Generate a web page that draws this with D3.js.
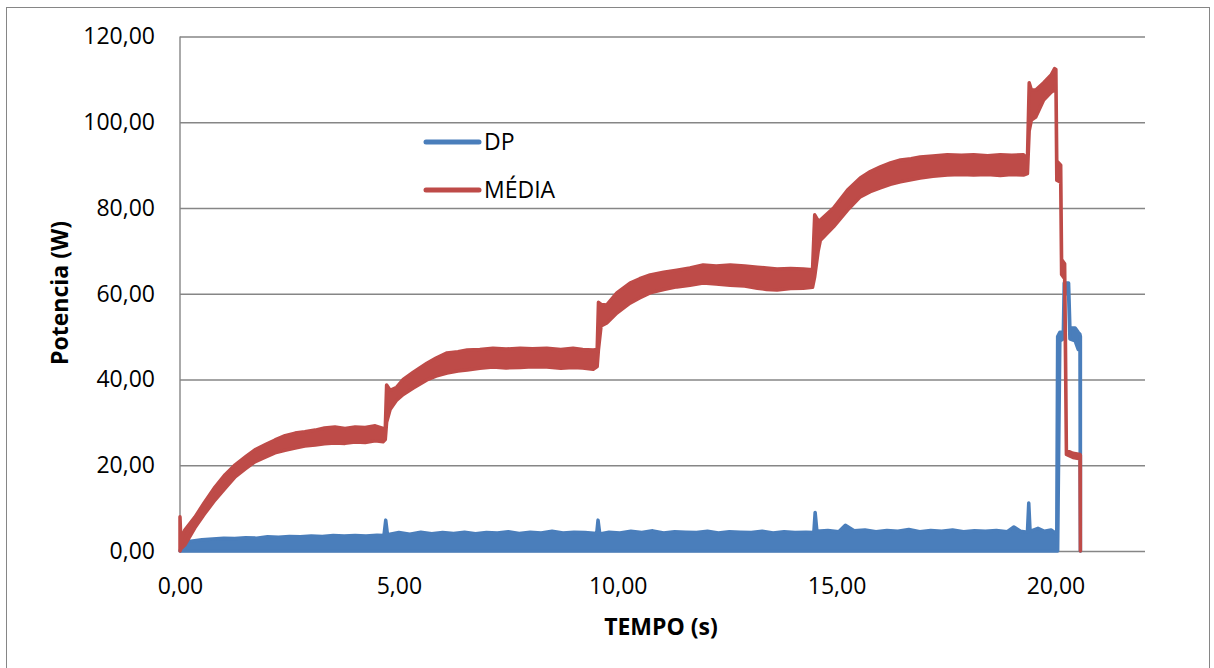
<!DOCTYPE html>
<html>
<head>
<meta charset="utf-8">
<script src="https://cdn.jsdelivr.net/npm/d3@7"></script>
<style>
  html, body { margin: 0; padding: 0; background: #fff; }
  svg { display: block; }
  text { font-family: "Open Sans", "Noto Sans", sans-serif; fill: #000; }
</style>
</head>
<body>
<svg id="chart" width="1214" height="668"></svg>
<script>
// ---------- DATA ----------
const xTicks = [0, 5, 10, 15, 20];
const yTicks = [0, 20, 40, 60, 80, 100, 120];
const seriesNames = ["DP", "MÉDIA"];
const xTitle = "TEMPO (s)";
const yTitle = "Potencia (W)";

// MÉDIA : sampled envelope (min / max of the noisy signal)
const mediaTime = [
  0.00,0.02,0.11,0.34,0.55,0.80,1.03,1.26,1.50,1.71,
  1.95,2.17,2.40,2.63,2.85,3.09,3.30,3.54,3.77,4.00,
  4.23,4.46,4.64,4.69,4.72,4.80,4.95,5.10,5.33,5.64,
  5.85,6.10,6.35,6.56,6.85,7.15,7.45,7.77,8.05,8.38,
  8.70,8.98,9.20,9.44,9.53,9.56,9.62,9.75,9.98,10.28,
  10.50,10.74,11.05,11.35,11.65,11.95,12.25,12.57,12.90,13.19,
  13.40,13.64,13.95,14.24,14.45,14.50,14.58,14.63,14.93,15.25,
  15.54,15.77,16.00,16.23,16.46,16.70,16.91,17.20,17.53,17.85,
  18.13,18.45,18.74,19.00,19.27,19.36,19.40,19.45,19.55,19.73,
  19.90,19.98,20.01,20.03,20.12,20.14,20.21,20.23,20.25,20.40,
  20.56,20.57
];
const mediaLow = [
  0.0,0.5,1.4,5.4,8.5,11.9,14.6,17.3,19.2,20.8,
  21.9,22.9,23.5,24.0,24.5,24.7,25.0,25.2,25.1,25.4,
  25.3,25.7,25.5,26.0,30.0,33.0,35.2,36.5,38.0,39.9,
  40.8,41.5,42.0,42.2,42.6,42.9,42.7,42.8,43.0,42.9,
  42.6,42.8,42.7,42.4,43.0,47.0,52.5,53.2,55.5,57.8,
  59.0,60.2,61.0,61.6,62.0,62.5,62.3,62.0,61.8,61.3,
  61.0,60.9,61.2,61.3,61.5,64.0,70.0,72.5,75.6,79.5,
  82.6,83.8,84.7,85.5,86.1,86.6,87.0,87.4,87.7,87.8,
  87.7,87.8,87.6,87.8,87.7,88.0,98.0,100.5,101.2,105.2,
  107.0,107.5,110.0,86.5,86.0,64.5,63.5,44.0,22.5,21.8,
  21.5,0.0
];
const mediaHigh = [
  8.0,2.5,4.9,7.9,11.2,14.9,17.8,20.1,22.0,23.6,
  24.8,25.9,26.9,27.5,27.8,28.2,28.7,28.9,28.6,28.9,
  28.8,29.2,28.6,28.8,38.7,37.5,38.2,40.0,41.7,43.8,
  45.0,46.2,46.5,46.9,47.0,47.3,47.1,47.3,47.2,47.3,
  47.0,47.3,47.0,46.9,47.0,58.0,57.5,57.4,60.2,62.5,
  63.5,64.4,65.0,65.5,66.0,66.7,66.5,66.7,66.5,66.2,
  66.0,65.8,65.9,65.8,65.6,78.4,77.0,77.2,80.0,84.2,
  87.0,88.5,89.6,90.5,91.2,91.5,91.9,92.1,92.4,92.3,
  92.4,92.2,92.4,92.3,92.4,91.5,109.2,107.5,107.5,109.2,
  111.0,112.5,112.3,91.0,90.0,68.0,67.0,47.0,23.5,22.8,
  22.5,22.3
];

// DP : sampled envelope (min / max of the noisy signal)
const dpTime = [
  0.00,0.05,0.10,0.25,0.50,0.75,1.00,1.25,1.50,1.75,
  2.00,2.25,2.50,2.75,3.00,3.25,3.50,3.75,4.00,4.25,
  4.50,4.66,4.70,4.74,5.00,5.25,5.50,5.75,6.00,6.25,
  6.50,6.75,7.00,7.25,7.50,7.75,8.00,8.25,8.50,8.75,
  9.00,9.25,9.52,9.55,9.59,9.80,10.05,10.30,10.55,10.80,
  11.05,11.30,11.55,11.80,12.05,12.30,12.55,12.80,13.05,13.30,
  13.55,13.80,14.05,14.30,14.48,14.51,14.55,14.80,15.05,15.20,
  15.40,15.65,15.90,16.15,16.40,16.65,16.90,17.15,17.40,17.65,
  17.90,18.15,18.40,18.65,18.90,19.05,19.20,19.36,19.39,19.42,
  19.60,19.75,19.90,20.03,20.05,20.10,20.18,20.20,20.30,20.33,
  20.45,20.52,20.56,20.57
];
const dpLow = [
  0,0,0,0,0,0,0,0,0,0,
  0,0,0,0,0,0,0,0,0,0,
  0,0,0,0,0,0,0,0,0,0,
  0,0,0,0,0,0,0,0,0,0,
  0,0,0,0,0,0,0,0,0,0,
  0,0,0,0,0,0,0,0,0,0,
  0,0,0,0,0,0,0,0,0,0,
  0,0,0,0,0,0,0,0,0,0,
  0,0,0,0,0,0,0,0,0,0,
  0,0,0,0,0,49.0,49.5,60.0,60.0,49.5,
  49.0,47.0,48.5,0
];
const dpHigh = [
  0.0,1.5,2.1,2.3,2.6,2.8,3.0,2.9,3.1,3.0,
  3.3,3.2,3.4,3.3,3.5,3.4,3.6,3.5,3.6,3.5,
  3.7,3.6,7.2,3.8,4.3,3.9,4.4,4.0,4.3,4.1,
  4.4,4.0,4.3,4.2,4.5,4.1,4.4,4.2,4.6,4.2,
  4.4,4.3,4.1,7.2,4.0,4.4,4.2,4.6,4.3,4.7,
  4.2,4.5,4.4,4.3,4.6,4.2,4.5,4.4,4.3,4.6,
  4.2,4.5,4.3,4.4,4.3,9.0,4.6,4.8,4.5,6.0,
  4.7,4.9,4.5,4.8,4.6,5.0,4.5,4.8,4.6,4.9,
  4.5,4.7,4.6,4.8,4.5,5.6,4.6,4.4,11.2,4.6,
  5.3,4.6,4.9,4.0,50.0,51.0,51.0,62.5,62.5,52.0,
  52.0,51.0,50.5,50.0
];

// ---------- DRAW ----------
const colors = { DP: "#4a7ebb", "MÉDIA": "#be4b48" };
const gridColor = "#868686";
const svg = d3.select("#chart");

// outer frame
svg.append("rect").attr("x", 6.5).attr("y", 7.5).attr("width", 1203).attr("height", 666)
  .attr("fill", "none").attr("stroke", gridColor).attr("stroke-width", 1);

const pLeft = 180, pRight = 1143, pTop = 36.5, pBottom = 551;
const x = d3.scaleLinear().domain([0, 22]).range([pLeft, pRight]);
const y = d3.scaleLinear().domain([0, 120]).range([pBottom, pTop]);

const loc = d3.formatLocale({ decimal: ",", thousands: ".", grouping: [3], currency: ["", ""] });
const fmt = loc.format(".2f");

// y axis with gridlines
const gy = svg.append("g").attr("transform", `translate(${pLeft},0)`)
  .call(d3.axisLeft(y).tickValues(yTicks).tickFormat(fmt).tickSize(-(pRight - pLeft + 2)).tickPadding(25));
gy.select(".domain").remove();
gy.selectAll(".tick line").attr("stroke", gridColor).attr("stroke-width", 1.4);
gy.selectAll(".tick text").attr("font-size", 23).attr("font-family", "'Open Sans', sans-serif").attr("fill", "#000");

// left border of plot area
svg.append("line").attr("x1", pLeft).attr("x2", pLeft).attr("y1", pTop).attr("y2", pBottom)
  .attr("stroke", gridColor).attr("stroke-width", 1.4);

// x axis
const gx = svg.append("g").attr("transform", `translate(0,${pBottom})`)
  .call(d3.axisBottom(x).tickValues(xTicks).tickFormat(fmt).tickSize(0).tickPadding(27));
gx.select(".domain").remove();
gx.selectAll(".tick text").attr("font-size", 23).attr("font-family", "'Open Sans', sans-serif").attr("fill", "#000");

// series
const dpData = dpTime.map((t, i) => ({ t, lo: dpLow[i], hi: dpHigh[i] }));
const mediaData = mediaTime.map((t, i) => ({ t, lo: mediaLow[i], hi: mediaHigh[i] }));
const area = d3.area().x(d => x(d.t)).y0(d => y(d.lo)).y1(d => y(d.hi)).curve(d3.curveLinear);

svg.append("path").datum(dpData).attr("d", area)
  .attr("fill", colors.DP).attr("stroke", colors.DP).attr("stroke-width", 3.5)
  .attr("stroke-linejoin", "round").attr("stroke-linecap", "round");
svg.append("path").datum(mediaData).attr("d", area)
  .attr("fill", colors["MÉDIA"]).attr("stroke", colors["MÉDIA"]).attr("stroke-width", 3.5)
  .attr("stroke-linejoin", "round").attr("stroke-linecap", "round");

// legend
const legY = [142, 190];
seriesNames.forEach((name, i) => {
  svg.append("line").attr("x1", 426).attr("x2", 479).attr("y1", legY[i]).attr("y2", legY[i])
    .attr("stroke", colors[name]).attr("stroke-width", 5).attr("stroke-linecap", "round");
  svg.append("text").attr("x", 484).attr("y", legY[i]).attr("dy", "0.35em")
    .attr("font-size", 23).text(name);
});

// axis titles
svg.append("text").attr("x", 661).attr("y", 627).attr("dy", "0.35em").attr("text-anchor", "middle")
  .attr("font-size", 23).attr("font-weight", "bold").text(xTitle);
svg.append("text").attr("transform", "translate(60,293) rotate(-90)").attr("dy", "0.35em")
  .attr("text-anchor", "middle").attr("font-size", 23).attr("font-weight", "bold").text(yTitle);
</script>
</body>
</html>
